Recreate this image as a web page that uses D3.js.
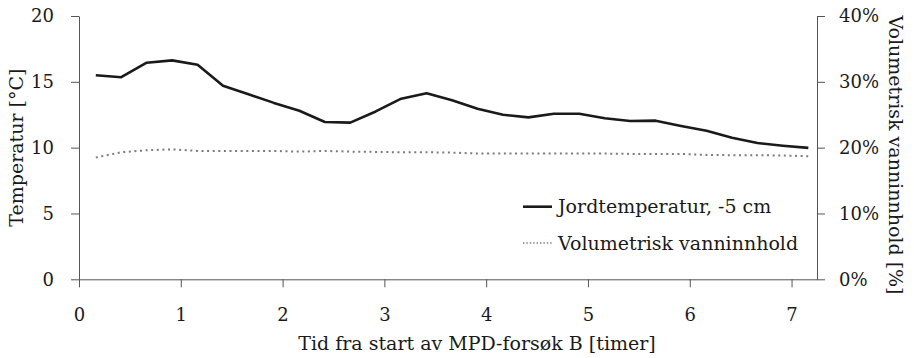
<!DOCTYPE html>
<html><head><meta charset="utf-8">
<script src="https://cdn.jsdelivr.net/npm/d3@7"></script>
<style>
body{margin:0;background:#fff}
svg text{font-family:"DejaVu Serif",serif;fill:#1a1a1a}
</style>
</head><body>
<svg id="c" width="914" height="358"></svg>
<script>
// ---- data ----
const hours = [0.165,0.415,0.665,0.915,1.165,1.415,1.665,1.915,2.165,2.415,2.665,2.915,3.165,3.415,3.665,3.915,4.165,4.415,4.665,4.915,5.165,5.415,5.665,5.915,6.165,6.415,6.665,6.915,7.165];
const soilTemp = [15.5,15.35,16.45,16.63,16.3,14.7,14.05,13.4,12.8,11.95,11.9,12.75,13.72,14.13,13.6,12.95,12.5,12.3,12.58,12.58,12.23,12.02,12.05,11.65,11.28,10.75,10.35,10.15,9.98];
const waterContent = [0.185,0.193,0.196,0.1975,0.195,0.195,0.195,0.195,0.194,0.195,0.194,0.1935,0.193,0.193,0.1925,0.191,0.191,0.191,0.191,0.191,0.191,0.1905,0.1905,0.1905,0.189,0.1885,0.1885,0.188,0.187];
const xTickValues = [0,1,2,3,4,5,6,7];
const tempTickValues = [0,5,10,15,20];
const waterTickValues = [0,0.1,0.2,0.3,0.4];
const xTitle = "Tid fra start av MPD-forsøk B [timer]";
const yLeftTitle = "Temperatur [°C]";
const yRightTitle = "Volumetrisk vanninnhold [%]";
const seriesNames = ["Jordtemperatur, -5 cm","Volumetrisk vanninnhold"];

// ---- layout ----
const svg = d3.select("#c");
const L = 79, R = 817, T = 16, B = 279.3;
const fs = 18, fsT = 19;
const axisColor = "#555";

const x = d3.scaleLinear().domain([0,7.25]).range([L,R]);
const yL = d3.scaleLinear().domain([0,20]).range([B,T]);
const yR = d3.scaleLinear().domain([0,0.4]).range([B,T]);

function styleAxis(g){
  g.selectAll("path,line").attr("stroke",axisColor).attr("stroke-width",1);
  g.selectAll("text").attr("font-size",fs).attr("font-family","DejaVu Serif").attr("fill","#1a1a1a");
}

svg.append("g").attr("transform",`translate(0,${B})`)
  .call(d3.axisBottom(x).tickValues(xTickValues).tickFormat(d3.format("d")).tickSize(8).tickSizeOuter(0).tickPadding(21))
  .call(styleAxis);

svg.append("g").attr("transform",`translate(${L},0)`)
  .call(d3.axisLeft(yL).tickValues(tempTickValues).tickFormat(d3.format("d")).tickSize(8).tickSizeOuter(0).tickPadding(17))
  .call(styleAxis);

svg.append("g").attr("transform",`translate(${R},0)`)
  .call(d3.axisRight(yR).tickValues(waterTickValues).tickFormat(d3.format(".0%")).tickSize(8).tickSizeOuter(0).tickPadding(14))
  .call(styleAxis);

// ---- lines ----
const pts = hours.map((h,i)=>({h, t:soilTemp[i], w:waterContent[i]}));
svg.append("path").datum(pts)
  .attr("fill","none").attr("stroke","#7a7a7a").attr("stroke-width",2)
  .attr("stroke-dasharray","2,3.6")
  .attr("d", d3.line().x(d=>x(d.h)).y(d=>yR(d.w)));
svg.append("path").datum(pts)
  .attr("fill","none").attr("stroke","#1a1a1a").attr("stroke-width",2.6)
  .attr("stroke-linejoin","round")
  .attr("d", d3.line().x(d=>x(d.h)).y(d=>yL(d.t)));

// ---- titles ----
svg.append("text").attr("x",477).attr("y",350).attr("text-anchor","middle")
  .attr("font-size",fsT).text(xTitle);
svg.append("text").attr("transform",`translate(23,${(T+B)/2}) rotate(-90)`)
  .attr("text-anchor","middle").attr("font-size",fsT).text(yLeftTitle);
svg.append("text").attr("transform",`translate(889,155) rotate(90)`)
  .attr("text-anchor","middle").attr("font-size",fsT).text(yRightTitle);

// ---- legend ----
const lg = svg.append("g");
const rows = [
  {name:seriesNames[0], y:206.7, stroke:"#1a1a1a", w:2.6, dash:null},
  {name:seriesNames[1], y:243, stroke:"#7a7a7a", w:1.4, dash:"1.4,2"}
];
rows.forEach(r=>{
  lg.append("line").attr("x1",523).attr("x2",552).attr("y1",r.y).attr("y2",r.y)
    .attr("stroke",r.stroke).attr("stroke-width",r.w).attr("stroke-dasharray",r.dash);
  lg.append("text").attr("x",558).attr("y",r.y+6.5).attr("font-size",fsT).text(r.name);
});
</script>
</body></html>
